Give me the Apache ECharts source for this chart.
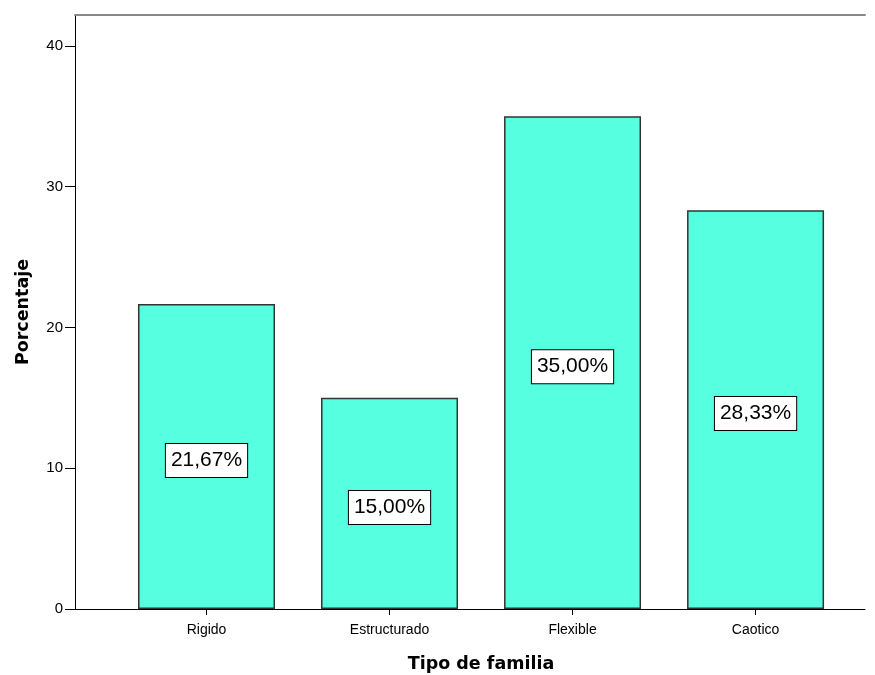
<!DOCTYPE html>
<html><head><meta charset="utf-8">
<script src="https://cdn.jsdelivr.net/npm/echarts@6/dist/echarts.min.js"></script>
<style>html,body{margin:0;padding:0;background:#fff}#c{width:875px;height:675px}</style>
</head><body><div id="c"></div>
<script>
const categories = ['Rigido', 'Estructurado', 'Flexible', 'Caotico'];
const values = [21.67, 15.00, 35.00, 28.33];
const yTicks = [0, 10, 20, 30, 40];
const positions = [0, 1, 2, 3];

const chart = echarts.init(document.getElementById('c'));
const xMin = -0.7186, xMax = 3.598;
chart.setOption({
  animation: false,
  grid: { left: 75, right: 10, top: 15, bottom: 66, containLabel: false, outerBoundsMode: 'none' },
  xAxis: [{
    type: 'value', min: xMin, max: xMax,
    name: 'Tipo de familia', nameLocation: 'middle', nameGap: 46,
    nameTextStyle: { fontFamily: 'DejaVu Sans', fontWeight: 'bold', fontSize: 17.5, color: '#000', padding: [0, 0, 0, 22] },
    axisLine: { onZero: false, lineStyle: { color: '#000', width: 1 } },
    axisTick: { show: true, length: 6, customValues: positions, lineStyle: { color: '#000' } },
    axisLabel: { customValues: positions, formatter: v => categories[Math.round(v)], fontFamily: 'Liberation Sans', fontSize: 14, color: '#000', margin: 14 },
    splitLine: { show: false }
  }, {
    type: 'value', min: xMin, max: xMax, position: 'top',
    axisLine: { show: true, onZero: false, lineStyle: { color: '#888', width: 2 } },
    axisTick: { show: false }, axisLabel: { show: false }, splitLine: { show: false }
  }],
  yAxis: {
    type: 'value', min: 0, max: 42.2, interval: 10,
    name: 'Porcentaje', nameLocation: 'middle', nameGap: 43,
    nameTextStyle: { fontFamily: 'DejaVu Sans', fontWeight: 'bold', fontSize: 17.5, color: '#000' },
    axisLine: { show: true, onZero: false, lineStyle: { color: '#000', width: 1 } },
    axisTick: { show: true, length: 10, customValues: yTicks, lineStyle: { color: '#000' } },
    axisLabel: { customValues: yTicks, fontFamily: 'Liberation Sans', fontSize: 15, color: '#000', margin: 12 },
    splitLine: { show: false }
  },
  series: [{
    type: 'bar', xAxisIndex: 0,
    data: values.map((v, i) => [positions[i], v]),
    barWidth: 137,
    itemStyle: { color: '#55FFE0', borderColor: '#333', borderWidth: 1.5 },
    label: {
      show: true, position: 'inside', offset: [0, 4],
      formatter: p => p.value[1].toFixed(2).replace('.', ',') + '%',
      fontFamily: 'Liberation Sans', fontSize: 21, lineHeight: 24, color: '#000',
      backgroundColor: '#fff', borderColor: '#000', borderWidth: 1,
      padding: [5, 5, 4, 5]
    }
  }]
});
</script></body></html>
